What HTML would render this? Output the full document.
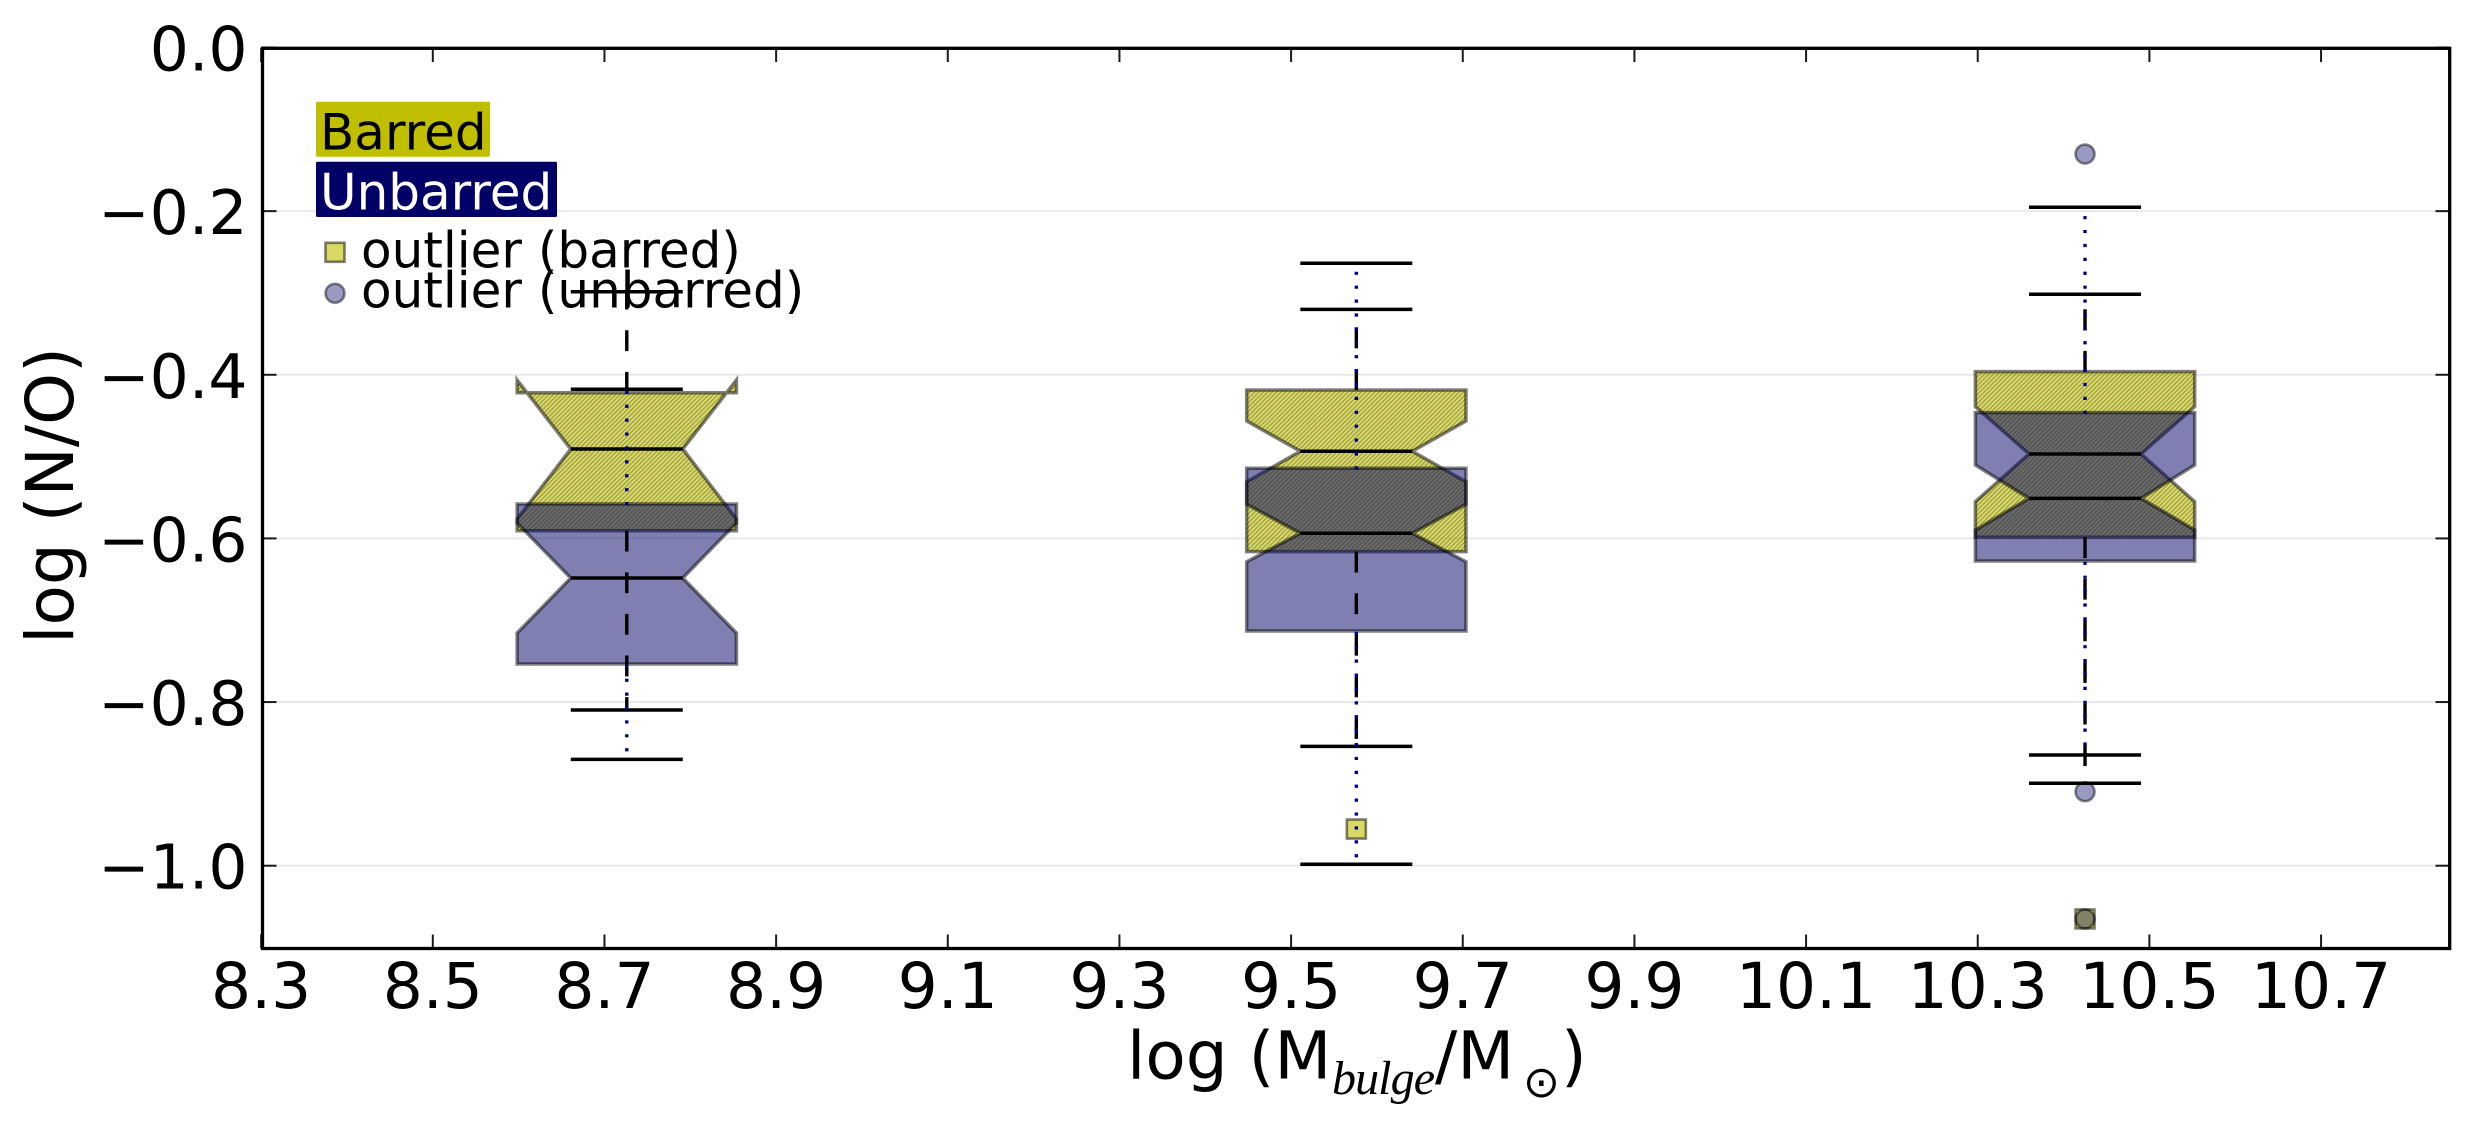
<!DOCTYPE html>
<html lang="en">
<head>
<meta charset="utf-8">
<title>log (N/O) versus bulge mass</title>
<style>
  html, body { margin: 0; padding: 0; background: #ffffff; }
  body { width: 2474px; height: 1133px; overflow: hidden; }
  svg { display: block; }
  text { font-family: "DejaVu Sans", "Liberation Sans", sans-serif; fill: #000000; }
</style>
</head>
<body>
<svg id="chart" xmlns="http://www.w3.org/2000/svg" width="2474" height="1133" viewBox="0 0 2474 1133">
  <defs>
    <pattern id="hatch" patternUnits="userSpaceOnUse" width="4.45" height="4.45">
      <path d="M-1 1L1 -1M0 4.45L4.45 0M3.45 5.45L5.45 3.45" stroke="#000000" stroke-opacity="0.36" stroke-width="0.95" fill="none"/>
    </pattern>
  </defs>
  <rect x="0" y="0" width="2474" height="1133" fill="#ffffff"/>
  <g id="grid-layer"></g>
  <g id="box-layer"></g>
  <g id="outlier-layer"></g>
  <g id="line-layer"></g>
  <g id="tick-layer"></g>
  <rect x="262.5" y="48.3" width="2187.2" height="900.2" fill="none" stroke="#000000" stroke-width="3.3"/>
  <g id="label-layer"></g>

  <g>
    <rect x="316" y="101.7" width="174" height="55" rx="1.5" fill="#bfbf00"/>
    <text x="320" y="149.3" font-size="50">Barred</text>
    <rect x="316" y="161.7" width="241" height="55.3" rx="1.5" fill="#000066"/>
    <text x="320" y="209.3" font-size="50" style="fill:#ffffff">Unbarred</text>
    <rect x="325.5" y="242.8" width="19" height="19" fill="#bfbf00" fill-opacity="0.6" stroke="#000000" stroke-opacity="0.5" stroke-width="2.6"/>
    <text x="361" y="267.7" font-size="50">outlier (barred)</text>
    <circle cx="335" cy="293.3" r="9.5" fill="#000066" fill-opacity="0.4" stroke="#000000" stroke-opacity="0.45" stroke-width="2.6"/>
    <text x="361" y="307.7" font-size="50">outlier (unbarred)</text>
  </g>

  <g>
    <text x="1127" y="1078.3" font-size="66">log (M</text>
    <text x="1332" y="1094" font-size="48" textLength="103" style="font-family:'Liberation Serif',serif;font-style:italic">bulge</text>
    <text x="1435" y="1078.3" font-size="66">/M</text>
    <text x="1523" y="1097" font-size="44">⊙</text>
    <text x="1561" y="1078.3" font-size="66">)</text>
  </g>
  <text transform="translate(73 495.5) rotate(-90)" text-anchor="middle" font-size="66">log (N/O)</text>
</svg>

<script>
// Axis ticks
const xTicks = [8.3, 8.5, 8.7, 8.9, 9.1, 9.3, 9.5, 9.7, 9.9, 10.1, 10.3, 10.5, 10.7];
const xTickLabels = ["8.3", "8.5", "8.7", "8.9", "9.1", "9.3", "9.5", "9.7", "9.9", "10.1", "10.3", "10.5", "10.7"];
const yTicks = [0, -0.2, -0.4, -0.6, -0.8, -1.0];
const yTickLabels = ["0.0", "\u22120.2", "\u22120.4", "\u22120.6", "\u22120.8", "\u22121.0"];

// Bin centres in log (M_bulge / M_sun)
const binCenters = [8.726, 9.576, 10.425];
const boxWidth = 0.2555;
const notchWidth = 0.1305;

// Barred galaxies
const barredQ3 = [-0.4219, -0.4186, -0.3962];
const barredNotchUpper = [-0.4064, -0.4565, -0.4390];
const barredMedian = [-0.4907, -0.4935, -0.4968];
const barredNotchLower = [-0.5763, -0.5307, -0.5551];
const barredQ1 = [-0.5906, -0.6162, -0.5986];
const barredWhiskerTop = [-0.2985, -0.3200, -0.3016];
const barredWhiskerBottom = [-0.8097, -0.8541, -0.8993];
const barredOutlierX = [9.576, 10.425];
const barredOutlierY = [-0.9552, -1.0651];

// Unbarred galaxies
const unbarredQ3 = [-0.5579, -0.5143, -0.4463];
const unbarredNotchUpper = [-0.5812, -0.5583, -0.5103];
const unbarredMedian = [-0.6484, -0.5937, -0.5510];
const unbarredNotchLower = [-0.7156, -0.6285, -0.5897];
const unbarredQ1 = [-0.7535, -0.7132, -0.6276];
const unbarredWhiskerTop = [-0.4177, -0.2637, -0.1953];
const unbarredWhiskerBottom = [-0.8700, -0.9983, -0.8647];
const unbarredOutlierX = [10.425, 10.425, 10.425];
const unbarredOutlierY = [-0.1302, -0.9096, -1.0651];

// Axis functions
function xScale(v) { return 432.8 + (v - 8.5) * 858.3; }
function yScale(v) { return 47.5 - v * 818.2; }

const SVG_NS = "http://www.w3.org/2000/svg";
const layer = function (id) { return document.getElementById(id); };

function make(tag, attrs, parent) {
  const node = document.createElementNS(SVG_NS, tag);
  Object.keys(attrs).forEach(function (k) { node.setAttribute(k, attrs[k]); });
  parent.appendChild(node);
  return node;
}

function vLine(xPos, y1, y2, stroke, width, dash, parent) {
  const attrs = { x1: xPos, x2: xPos, y1: y1, y2: y2, stroke: stroke, "stroke-width": width };
  if (dash) attrs["stroke-dasharray"] = dash;
  return make("line", attrs, parent);
}

function hLine(x1, x2, yPos, stroke, width, parent) {
  return make("line", { x1: x1, x2: x2, y1: yPos, y2: yPos, stroke: stroke, "stroke-width": width }, parent);
}

function boxPoints(i, q1, nl, med, nu, q3) {
  const left = xScale(binCenters[i] - boxWidth / 2);
  const right = xScale(binCenters[i] + boxWidth / 2);
  const nL = xScale(binCenters[i] - notchWidth / 2);
  const nR = xScale(binCenters[i] + notchWidth / 2);
  return [
    [left, yScale(q1[i])], [left, yScale(nl[i])], [nL, yScale(med[i])], [left, yScale(nu[i])], [left, yScale(q3[i])],
    [right, yScale(q3[i])], [right, yScale(nu[i])], [nR, yScale(med[i])], [right, yScale(nl[i])], [right, yScale(q1[i])]
  ].map(function (p) { return p[0].toFixed(2) + "," + p[1].toFixed(2); }).join(" ");
}

// Gridlines and ticks
yTicks.forEach(function (t, i) {
  const yPos = yScale(t);
  if (t !== 0) {
    const grid = hLine(262.5, 2449.7, yPos, "#e9e9e9", 2, layer("grid-layer"));
    
    
  }
  const tickL = hLine(262.5, 276.5, yPos, "#1a1a1a", 2, layer("tick-layer"));
  
  
  const tickR = hLine(2435.5, 2449.7, yPos, "#1a1a1a", 2, layer("tick-layer"));
  
  
  const label = make("text", { x: 247.5, y: yPos + 23, "text-anchor": "end", "font-size": 61.5 }, layer("label-layer"));
  label.textContent = yTickLabels[i];
  
  
});

xTicks.forEach(function (t, i) {
  const xPos = xScale(t);
  const tickB = vLine(xPos, 948.5, 934.5, "#1a1a1a", 2, null, layer("tick-layer"));
  
  
  const tickT = vLine(xPos, 48.3, 62, "#1a1a1a", 2, null, layer("tick-layer"));
  
  
  const label = make("text", { x: xPos, y: 1008, "text-anchor": "middle", "font-size": 63 }, layer("label-layer"));
  label.textContent = xTickLabels[i];
  
  
});

// Boxes
binCenters.forEach(function (c, i) {
  const pts = boxPoints(i, barredQ1, barredNotchLower, barredMedian, barredNotchUpper, barredQ3);
  const fill = make("polygon", { points: pts, fill: "#bfbf00", "fill-opacity": 0.6, stroke: "#000000", "stroke-opacity": 0.5, "stroke-width": 3.5, "stroke-linejoin": "miter" }, layer("box-layer"));
  
  
  const hatch = make("polygon", { points: pts, fill: "url(#hatch)", stroke: "none" }, layer("box-layer"));
  
  
});
binCenters.forEach(function (c, i) {
  const pts = boxPoints(i, unbarredQ1, unbarredNotchLower, unbarredMedian, unbarredNotchUpper, unbarredQ3);
  const box = make("polygon", { points: pts, fill: "#000066", "fill-opacity": 0.5, stroke: "#000000", "stroke-opacity": 0.5, "stroke-width": 3.5, "stroke-linejoin": "miter" }, layer("box-layer"));
  
  
});

// Outliers
barredOutlierX.forEach(function (v, i) {
  const m = make("rect", { x: xScale(v) - 9.5, y: yScale(barredOutlierY[i]) - 9.5, width: 19, height: 19, fill: "#bfbf00", "fill-opacity": 0.6, stroke: "#000000", "stroke-opacity": 0.5, "stroke-width": 2.6 }, layer("outlier-layer"));
  
  
});
unbarredOutlierX.forEach(function (v, i) {
  const m = make("circle", { cx: xScale(v), cy: yScale(unbarredOutlierY[i]), r: 9.5, fill: "#000066", "fill-opacity": 0.4, stroke: "#000000", "stroke-opacity": 0.45, "stroke-width": 2.6 }, layer("outlier-layer"));
  
  
});

// Barred whiskers, caps and medians (black)
binCenters.forEach(function (c, i) {
  const xc = xScale(c);
  const capL = xScale(c - notchWidth / 2);
  const capR = xScale(c + notchWidth / 2);
  const wt = vLine(xc, yScale(barredQ3[i]), yScale(barredWhiskerTop[i]), "#000000", 3.4, "20.8 20.8", layer("line-layer"));
  
  
  const wb = vLine(xc, yScale(barredQ1[i]), yScale(barredWhiskerBottom[i]), "#000000", 3.4, "20.8 20.8", layer("line-layer"));
  
  
  const ct = hLine(capL, capR, yScale(barredWhiskerTop[i]), "#000000", 3.5, layer("line-layer"));
  
  
  const cb = hLine(capL, capR, yScale(barredWhiskerBottom[i]), "#000000", 3.5, layer("line-layer"));
  
  
  const md = hLine(capL, capR, yScale(barredMedian[i]), "#000000", 3.5, layer("line-layer"));
  
  
});

// Unbarred caps and medians (black), then dotted whiskers on top
binCenters.forEach(function (c, i) {
  const capL = xScale(c - notchWidth / 2);
  const capR = xScale(c + notchWidth / 2);
  const ct = hLine(capL, capR, yScale(unbarredWhiskerTop[i]), "#000000", 3.5, layer("line-layer"));
  
  
  const cb = hLine(capL, capR, yScale(unbarredWhiskerBottom[i]), "#000000", 3.5, layer("line-layer"));
  
  
  const md = hLine(capL, capR, yScale(unbarredMedian[i]), "#000000", 3.5, layer("line-layer"));
  
  
});
binCenters.forEach(function (c, i) {
  const xc = xScale(c);
  const wt = vLine(xc, yScale(unbarredQ3[i]) + 1.2, yScale(unbarredWhiskerTop[i]), "#000080", 3.4, "3.2 10.7", layer("line-layer"));
  
  
  const wb = vLine(xc, yScale(unbarredQ1[i]) + 0.7, yScale(unbarredWhiskerBottom[i]), "#000080", 3.4, "3.2 10.7", layer("line-layer"));
  
  
});
</script>
</body>
</html>
